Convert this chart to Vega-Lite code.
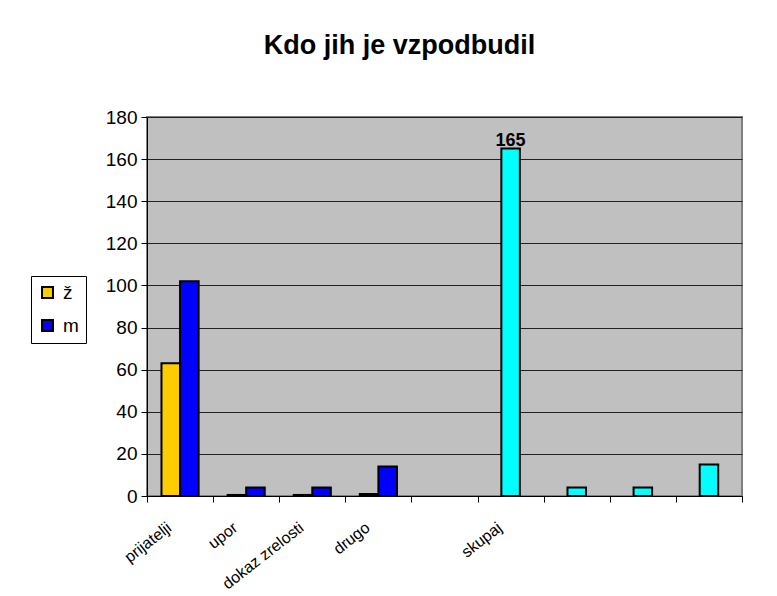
{
  "$schema": "https://vega.github.io/schema/vega-lite/v6.json",
  "width": 595,
  "height": 379,
  "autosize": "none",
  "padding": {"left": 147, "top": 117, "right": 35, "bottom": 100},
  "background": "white",
  "title": {"text": "Kdo jih je vzpodbudil", "font": "Liberation Sans", "fontSize": 27, "fontWeight": "bold", "anchor": "middle", "dx": -45, "offset": 48, "color": "black"},
  "config": {"view": {"fill": "#C0C0C0", "stroke": "#808080", "strokeWidth": 2}, "font": "Liberation Sans"},
  "layer": [
    {
      "data": {"values": [
        {"cat": "prijatelji", "series": "ž", "value": 63},
        {"cat": "prijatelji", "series": "m", "value": 102},
        {"cat": "upor", "series": "ž", "value": 0.5},
        {"cat": "upor", "series": "m", "value": 4},
        {"cat": "dokaz zrelosti", "series": "ž", "value": 0.5},
        {"cat": "dokaz zrelosti", "series": "m", "value": 4},
        {"cat": "drugo", "series": "ž", "value": 1},
        {"cat": "drugo", "series": "m", "value": 14}
      ]},
      "mark": {"type": "bar", "stroke": "black", "strokeWidth": 2},
      "encoding": {
        "x": {"field": "cat", "type": "nominal", "sort": null, "title": null,
          "scale": {"domain": ["prijatelji", "upor", "dokaz zrelosti", "drugo", "_1", "skupaj", "_2", "_3", "_4"], "paddingInner": 0, "paddingOuter": 0},
          "axis": {"labelAngle": -38, "labelFontSize": 16, "labelColor": "black", "labelExpr": "test(/^_/, datum.value) ? '' : datum.value", "tickBand": "extent", "tickColor": "black", "tickSize": 6, "domainColor": "black", "labelPadding": 17, "labelOffset": -16, "grid": false}},
        "xOffset": {"field": "series", "type": "nominal", "scale": {"domain": ["ž", "m"], "paddingInner": 0, "paddingOuter": 0.78}},
        "y": {"field": "value", "type": "quantitative", "title": null,
          "scale": {"domain": [0, 180]},
          "axis": {"values": [0, 20, 40, 60, 80, 100, 120, 140, 160, 180], "labelFontSize": 19, "labelColor": "black", "tickColor": "black", "tickSize": 6, "domainColor": "black", "grid": true, "gridColor": "#222222", "gridWidth": 1, "labelPadding": 4}},
        "color": {"field": "series", "type": "nominal",
          "scale": {"domain": ["ž", "m"], "range": ["#FFCC00", "#0000FF"]},
          "legend": {"orient": "none", "legendX": -116, "legendY": 159, "title": null, "strokeColor": "black", "fillColor": "white", "padding": 7, "symbolType": "square", "symbolSize": 120, "symbolStrokeColor": "black", "symbolStrokeWidth": 2, "symbolOpacity": 1, "labelFontSize": 19, "labelColor": "black", "rowPadding": 13, "labelOffset": 6}}
      }
    },
    {
      "data": {"values": [
        {"cat": "skupaj", "value": 165},
        {"cat": "_2", "value": 4},
        {"cat": "_3", "value": 4},
        {"cat": "_4", "value": 15}
      ]},
      "mark": {"type": "bar", "stroke": "black", "strokeWidth": 2, "color": "#00FFFF", "width": {"band": 0.28}},
      "encoding": {
        "x": {"field": "cat", "type": "nominal", "sort": null},
        "y": {"field": "value", "type": "quantitative"}
      }
    },
    {
      "data": {"values": [{"cat": "skupaj", "value": 165}]},
      "mark": {"type": "text", "fontWeight": "bold", "fontSize": 18, "baseline": "alphabetic", "dy": -3, "color": "black"},
      "encoding": {
        "x": {"field": "cat", "type": "nominal", "sort": null},
        "y": {"field": "value", "type": "quantitative"},
        "text": {"field": "value", "type": "quantitative"}
      }
    }
  ]
}
